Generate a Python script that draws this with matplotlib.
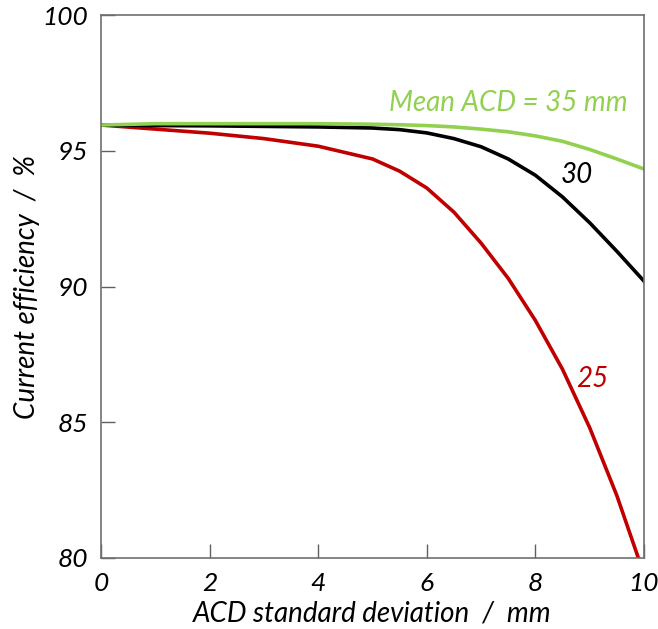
import matplotlib
matplotlib.use("Agg")
import matplotlib.pyplot as plt

plt.rcParams['font.family'] = ['Lato', 'DejaVu Sans']
plt.rcParams['font.style'] = 'italic'

# ACD standard deviation (mm)
sd = [0, 1, 2, 3, 4, 5, 5.5, 6, 6.5, 7, 7.5, 8, 8.5, 9, 9.5, 10]

# current efficiency (%) for mean ACD = 25, 30, 35 mm
eff_25 = [95.95, 95.8, 95.65, 95.45, 95.17, 94.7, 94.25, 93.63, 92.74, 91.6, 90.3, 88.75, 86.95, 84.8, 82.3, 79.4]
eff_30 = [95.95, 95.93, 95.92, 95.9, 95.88, 95.84, 95.78, 95.66, 95.45, 95.15, 94.7, 94.1, 93.3, 92.35, 91.3, 90.2]
eff_35 = [95.95, 96.0, 96.0, 96.0, 96.0, 95.98, 95.96, 95.93, 95.88, 95.8, 95.7, 95.55, 95.35, 95.05, 94.7, 94.33]

red = '#C00000'
green = '#92D050'

fig = plt.figure(figsize=(6.58, 6.29), dpi=100)
ax = fig.add_axes([0.1535, 0.1129, 0.8252, 0.8631])

ax.plot(sd, eff_25, color=red, lw=2.6)
ax.plot(sd, eff_30, color='black', lw=2.6)
ax.plot(sd, eff_35, color=green, lw=2.6)

ax.text(9.04, 86.6, '25', color=red, fontsize=20, ha='center', va='center')
ax.text(8.77, 94.1, '30', color='black', fontsize=20, ha='center', va='center')
ax.text(7.5, 96.76, 'Mean ACD = 35 mm', color=green, fontsize=20, ha='center', va='center')

ax.set_xlim(0, 10)
ax.set_ylim(80, 100)
ax.set_xticks([0, 2, 4, 6, 8, 10])
ax.set_yticks([80, 85, 90, 95, 100])
ax.tick_params(direction='in', length=10, width=1, colors='#606060', labelcolor='black',
               labelsize=19)
ax.tick_params(axis='x', pad=10)
ax.tick_params(axis='y', pad=9)
for s in ax.spines.values():
    s.set_color('#707070')
    s.set_linewidth(1.2)

ax.set_xlabel('ACD standard deviation  /  mm', fontsize=20, labelpad=4)
ax.set_ylabel('Current efficiency  /  %', fontsize=20, labelpad=2)

fig.savefig('out.png', dpi=100)
